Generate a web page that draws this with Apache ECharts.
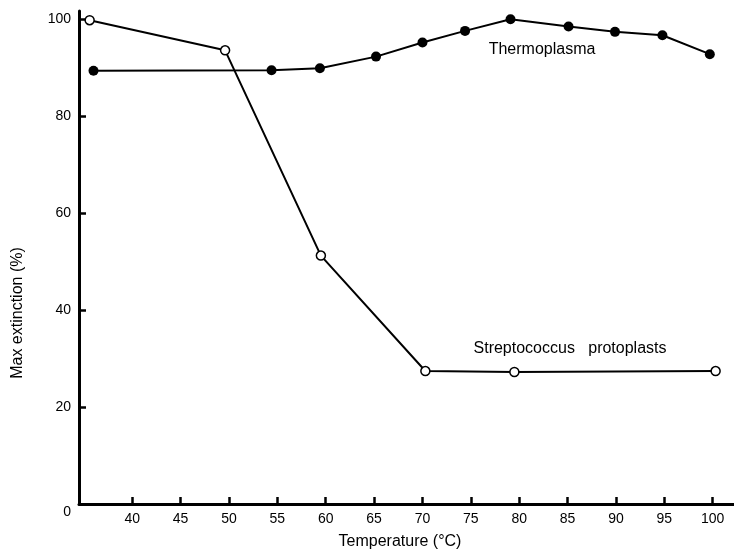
<!DOCTYPE html>
<html>
<head>
<meta charset="utf-8">
<script src="https://cdn.jsdelivr.net/npm/echarts@6/dist/echarts.min.js"></script>
<style>html,body{margin:0;padding:0;background:#fff}#c{width:734px;height:551px}</style>
</head>
<body>
<div id="c"></div>
<script>
var thermoX = [36.0, 54.4, 59.4, 65.2, 70.0, 74.4, 79.1, 85.1, 89.9, 94.8, 99.7];
var thermoY = [89.3, 89.4, 89.8, 92.2, 95.1, 97.5, 99.9, 98.4, 97.3, 96.6, 92.7];
var strepX = [35.6, 49.6, 59.5, 70.3, 79.5, 100.3];
var strepY = [99.7, 93.5, 51.2, 27.4, 27.2, 27.4];
var xTicks = [40, 45, 50, 55, 60, 65, 70, 75, 80, 85, 90, 95, 100];
var yTicks = [0, 20, 40, 60, 80, 100];
var seriesNames = ['Thermoplasma', 'Streptococcus protoplasts'];

function zip(a, b) { return a.map(function (v, i) { return [v, b[i]]; }); }

var font = 'Liberation Sans';
var chart = echarts.init(document.getElementById('c'));
chart.setOption({
  animation: false,
  backgroundColor: '#fff',
  grid: { left: 79, right: 0, top: 11, bottom: 47 },
  xAxis: {
    type: 'value', min: 34.5, max: 102.2,
    splitLine: { show: false },
    axisLine: { lineStyle: { color: '#000', width: 3 } },
    axisTick: { inside: true, length: 7, customValues: xTicks, lineStyle: { color: '#000', width: 2.5 } },
    axisLabel: { customValues: xTicks, color: '#000', fontFamily: font, fontSize: 14, margin: 8 }
  },
  yAxis: {
    type: 'value', min: 0, max: 101.6,
    splitLine: { show: false },
    axisLine: { lineStyle: { color: '#000', width: 3 } },
    axisTick: { inside: true, length: 7, customValues: yTicks, lineStyle: { color: '#000', width: 2.5 } },
    axisLabel: {
      customValues: yTicks, color: '#000', fontFamily: font, fontSize: 14, margin: 8,
      formatter: function (v) { return v === 0 ? '{z|0}' : String(v); },
      rich: { z: { padding: [16, 0, 0, 0], fontFamily: font, fontSize: 14, color: '#000' } }
    }
  },
  graphic: [
    { type: 'text', style: { x: 542, y: 50, text: 'Thermoplasma', fill: '#000', font: '16px "Liberation Sans"', align: 'center', verticalAlign: 'middle' } },
    { type: 'text', style: { x: 570, y: 349, text: 'Streptococcus   protoplasts', fill: '#000', font: '16px "Liberation Sans"', align: 'center', verticalAlign: 'middle' } },
    { type: 'text', style: { x: 400, y: 542, text: 'Temperature (°C)', fill: '#000', font: '16px "Liberation Sans"', align: 'center', verticalAlign: 'middle' } },
    { type: 'text', x: 18, y: 313, rotation: Math.PI / 2, style: { x: 0, y: 0, text: 'Max extinction (%)', fill: '#000', font: '16px "Liberation Sans"', align: 'center', verticalAlign: 'middle' } }
  ],
  series: [
    {
      name: seriesNames[0], type: 'line', data: zip(thermoX, thermoY),
      symbol: 'circle', symbolSize: 10,
      lineStyle: { color: '#000', width: 2 },
      itemStyle: { color: '#000', borderColor: '#000', borderWidth: 0 }
    },
    {
      name: seriesNames[1], type: 'line', data: zip(strepX, strepY),
      symbol: 'circle', symbolSize: 9,
      lineStyle: { color: '#000', width: 2 },
      itemStyle: { color: '#fff', borderColor: '#000', borderWidth: 1.5 }
    }
  ]
});
</script>
</body>
</html>
